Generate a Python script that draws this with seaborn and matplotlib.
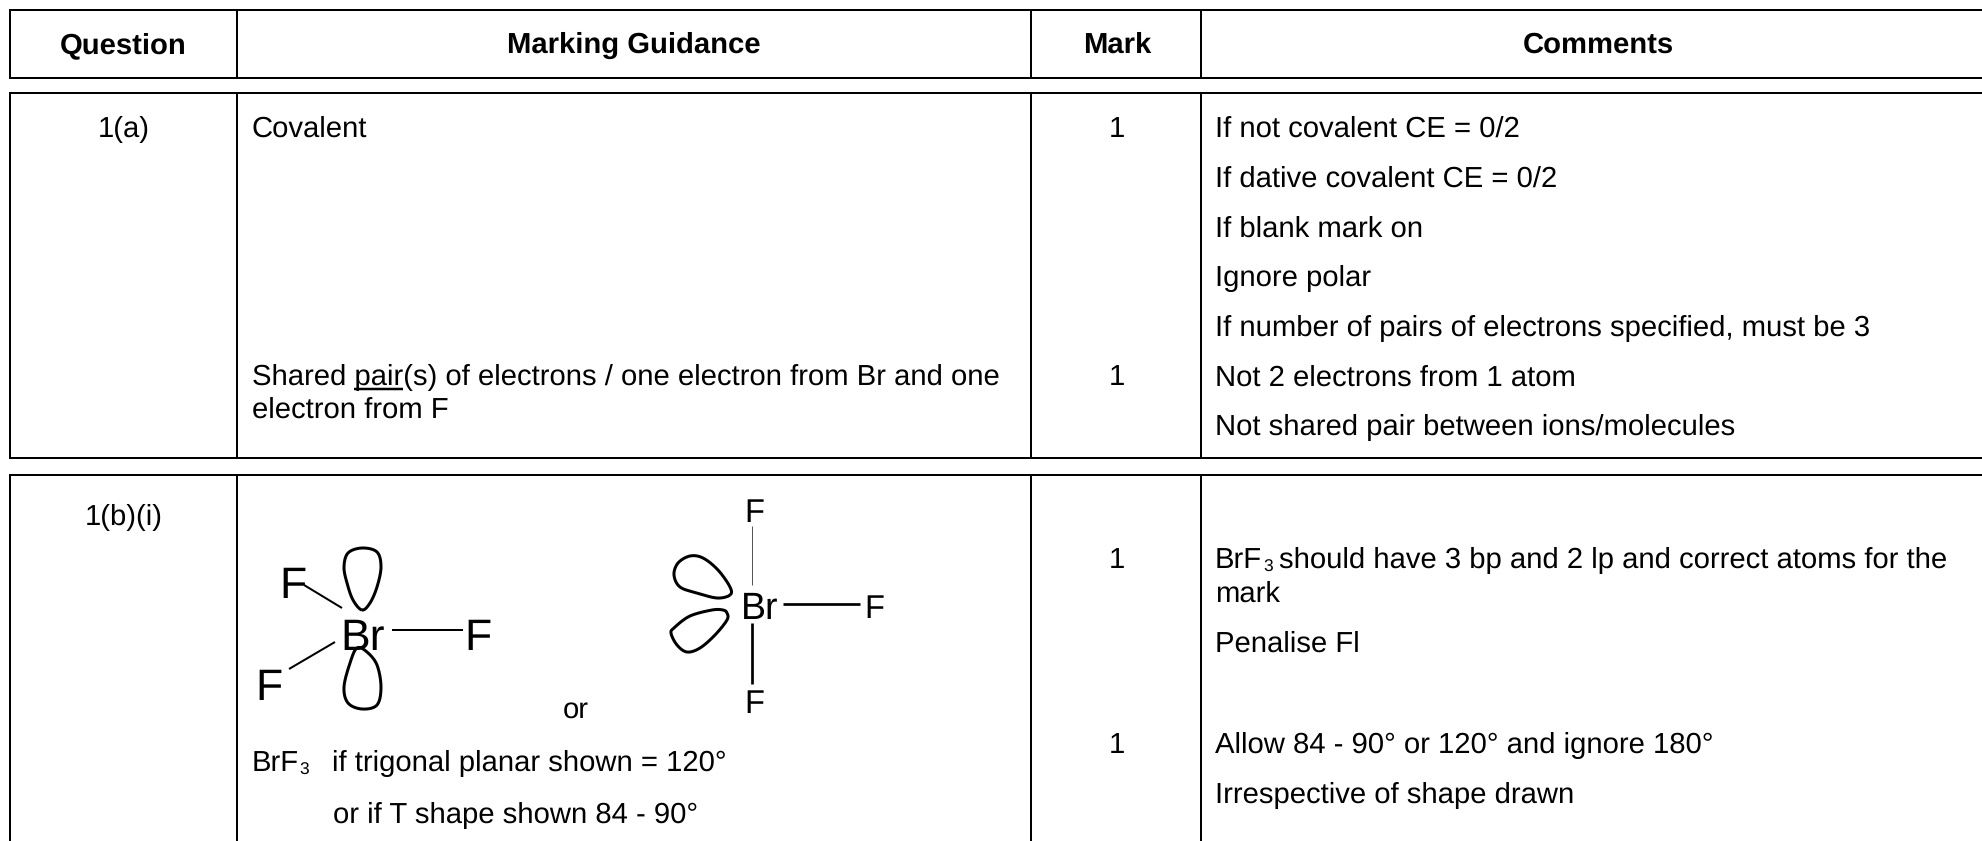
import numpy as np
import pandas as pd
import matplotlib
matplotlib.use('Agg')
import matplotlib.pyplot as plt
import seaborn as sns

# table text
headers = ['Question', 'Marking Guidance', 'Mark', 'Comments']
questions = ['1(a)', '1(b)(i)']
guidance_a = ['Covalent', 'Shared pair(s) of electrons / one electron from Br and one', 'electron from F']
guidance_b = ['if trigonal planar shown = 120\N{DEGREE SIGN}', 'or if T shape shown 84 - 90\N{DEGREE SIGN}']
marks = ['1', '1', '1', '1']
comments_a = ['If not covalent CE = 0/2', 'If dative covalent CE = 0/2', 'If blank mark on', 'Ignore polar',
              'If number of pairs of electrons specified, must be 3', 'Not 2 electrons from 1 atom',
              'Not shared pair between ions/molecules']
comments_b = ['should have 3 bp and 2 lp and correct atoms for the', 'mark', 'Penalise Fl', '',
              'Allow 84 - 90\N{DEGREE SIGN} or 120\N{DEGREE SIGN} and ignore 180\N{DEGREE SIGN}', 'Irrespective of shape drawn']

# outlines of the lone pairs
lobe_up_x = [362, 353, 347, 344, 348, 362, 377, 381, 377, 370]
lobe_up_y = [610, 600, 583, 567, 553, 548, 552, 567, 587, 603]
lobe_down_x = [357, 350, 344, 348, 362, 377, 381, 377, 367]
lobe_down_y = [648, 663, 687, 703, 709, 705, 687, 665, 652]
lobe_r1_x = [730, 730, 718, 703, 690, 678, 674, 680, 697, 717]
lobe_r1_y = [595, 587, 570, 558, 556, 563, 575, 587, 593, 598]
lobe_r2_x = [727, 723, 712, 690, 675, 671, 677, 687, 700, 715, 727]
lobe_r2_y = [613, 610, 610, 616, 627, 633, 645, 652, 648, 635, 620]

WIDTH, HEIGHT = 1982, 841


def closed_curve(xs, ys, n=16):
    # catmull-rom through the read points
    p = np.column_stack([xs, ys]).astype(float)
    out = []
    for i in range(len(p)):
        p0, p1, p2, p3 = p[i - 1], p[i], p[(i + 1) % len(p)], p[(i + 2) % len(p)]
        for t in np.linspace(0, 1, n, endpoint=False):
            out.append(0.5 * (2 * p1 + (p2 - p0) * t + (2 * p0 - 5 * p1 + 4 * p2 - p3) * t ** 2
                              + (3 * p1 - p0 - 3 * p2 + p3) * t ** 3))
    out.append(out[0])
    return np.array(out)


def seg(ax, x, y, lw=2.0, color='black'):
    # lw in pixels
    sns.lineplot(x=x, y=y, sort=False, estimator=None, color=color, linewidth=lw * 0.72, ax=ax,
                 legend=False, solid_capstyle='butt')


if __name__ == '__main__':
    sns.set_theme(style='white')
    plt.rcParams['font.family'] = ['Liberation Sans', 'DejaVu Sans']
    plt.rcParams['text.color'] = 'black'
    plt.rcParams['text.hinting'] = 'no_hinting'

    fig = plt.figure(figsize=(WIDTH / 100, HEIGHT / 100), dpi=100)
    ax = fig.add_axes([0, 0, 1, 1])
    ax.set_xlim(0, WIDTH)
    ax.set_ylim(HEIGHT, 0)
    ax.axis('off')

    # table rules
    for y in [10, 78, 93, 458, 475]:
        seg(ax, [9, WIDTH], [y, y])
    for x in [10, 237, 1031, 1200.5]:
        seg(ax, [x, x], [10, 78])
        seg(ax, [x, x], [93, 458])
        seg(ax, [x, x], [475, HEIGHT])

    fs = 21.1
    for name, x in zip(headers, [123, 634, 1117, 1598]):
        ax.text(x, 53, name, fontsize=fs, fontweight='bold', ha='center', va='baseline')

    ax.text(124, 137, questions[0], fontsize=fs, ha='center', va='baseline')
    ax.text(124, 525, questions[1], fontsize=fs, ha='center', va='baseline')

    for text, y in zip(guidance_a, [137, 385, 418]):
        ax.text(252, y, text, fontsize=fs, va='baseline')
    seg(ax, [354, 403], [389, 389], lw=2.5)

    for text, y in zip(marks, [137, 385, 568, 753]):
        ax.text(1117, y, text, fontsize=fs, ha='center', va='baseline')

    for i, text in enumerate(comments_a):
        ax.text(1215, 137 + i * 49.7, text, fontsize=fs, va='baseline')
    ax.text(1215, 568, 'BrF', fontsize=fs, va='baseline')
    ax.text(1263, 572, '3', fontsize=12.5, va='baseline')
    ax.text(1279, 568, comments_b[0], fontsize=fs, va='baseline')
    for text, y in zip(comments_b[1:], [602, 652, 702, 753, 803]):
        if text:
            ax.text(1215, y, text, fontsize=fs, va='baseline')

    ax.text(252, 771, 'BrF', fontsize=fs, va='baseline')
    ax.text(299, 775, '3', fontsize=12.5, va='baseline')
    ax.text(332, 771, guidance_b[0], fontsize=fs, va='baseline')
    ax.text(333, 823, guidance_b[1], fontsize=fs, va='baseline')
    ax.text(576, 718, 'or', fontsize=fs, ha='center', va='baseline')

    # left BrF3 drawing
    for text, x, y in [('F', 293, 598), ('F', 269, 700), ('Br', 363, 650), ('F', 478, 650)]:
        ax.text(x, y, text, fontsize=32, ha='center', va='baseline')
    seg(ax, [304, 342], [585, 608])
    seg(ax, [289, 335], [669, 642])
    seg(ax, [392, 463], [630, 630])
    for xs, ys in [(lobe_up_x, lobe_up_y), (lobe_down_x, lobe_down_y), (lobe_r1_x, lobe_r1_y), (lobe_r2_x, lobe_r2_y)]:
        c = closed_curve(xs, ys)
        seg(ax, c[:, 0], c[:, 1], lw=3)

    # right BrF3 drawing
    for text, x, y, size in [('F', 754, 522, 23.5), ('Br', 760, 619, 27), ('F', 874, 618, 23.5), ('F', 754, 713, 23.5)]:
        ax.text(x, y, text, fontsize=size, ha='center', va='baseline')
    seg(ax, [752, 752], [526, 585], lw=1, color='#555555')
    seg(ax, [783, 860], [604, 604], lw=2.7)
    seg(ax, [752, 752], [623, 684], lw=2.7)

    fig.savefig('out.png', dpi=100)
